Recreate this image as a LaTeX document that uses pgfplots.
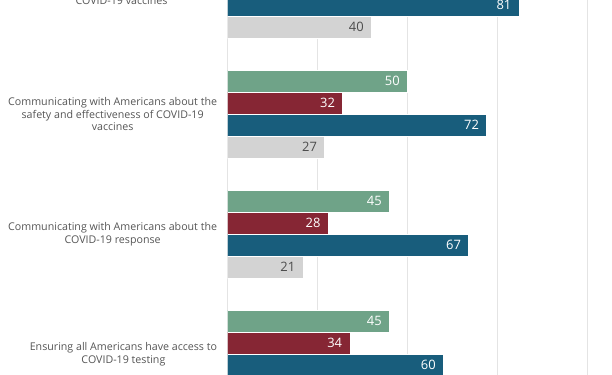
\documentclass[border=0pt]{standalone}
\usepackage{pgfplots}
\pgfplotsset{compat=1.18}
\usepackage{fontspec}
\setmainfont{Open Sans}
\definecolor{cgreen}{HTML}{6FA388}
\definecolor{cred}{HTML}{862634}
\definecolor{cblue}{HTML}{185D7C}
\definecolor{cgrey}{HTML}{D3D3D3}
\definecolor{ctext}{HTML}{555555}
\definecolor{cgrid}{HTML}{E4E4E4}
\begin{document}
\begin{tikzpicture}[x=1bp,y=1bp]
\path[use as bounding box] (0,0) rectangle (612,374);
\clip (0,0) rectangle (612,374);
\begin{axis}[
  at={(227.5bp,-52bp)}, anchor=south west,
  scale only axis, width=360bp, height=492bp,
  xbar, y dir=reverse,
  xmin=0, xmax=100, ymin=0.5, ymax=4.6,
  bar width=0.1833,
  xtick={0,25,50,75,100}, xticklabels={},
  xmajorgrids, major grid style={draw=cgrid, line width=1bp},
  axis line style={draw=none}, tick style={draw=none},
  ytick={1,2,3,4},
  yticklabels={
    {\rule{191bp}{0pt}\vphantom{Cg}\\COVID-19 vaccines},
    {Communicating with Americans about the\\safety and effectiveness of COVID-19\\vaccines},
    {Communicating with Americans about the\\COVID-19 response},
    {Ensuring all Americans have access to\\COVID-19 testing}},
  yticklabel style={align=center, anchor=east, inner sep=0pt, xshift=-6bp,
    font=\fontsize{10.7}{13}\selectfont, text=ctext},
  /pgf/number format/assume math mode=true,
  nodes near coords,
  nodes near coords style={anchor=east, xshift=-7.5bp, inner sep=0pt,
    font=\fontsize{13}{15}\selectfont},
  clip=true,
]
\addplot+[bar shift=-0.275, fill=cgreen, draw=white, line width=0.6bp,
  every node near coord/.append style={text=white}]
  coordinates {(50,2) (45,3) (45,4)};
\addplot+[bar shift=-0.0917, fill=cred, draw=white, line width=0.6bp,
  every node near coord/.append style={text=white}]
  coordinates {(32,2) (28,3) (34,4)};
\addplot+[bar shift=0.0917, fill=cblue, draw=white, line width=0.6bp,
  every node near coord/.append style={text=white}]
  coordinates {(81,1) (72,2) (67,3) (60,4)};
\addplot+[bar shift=0.275, fill=cgrey, draw=white, line width=0.6bp,
  every node near coord/.append style={text=black!70}]
  coordinates {(40,1) (27,2) (21,3)};
\end{axis}
\end{tikzpicture}
\end{document}
